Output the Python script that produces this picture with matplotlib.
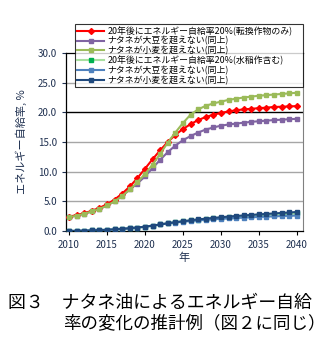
import matplotlib
matplotlib.use('Agg')
import matplotlib.pyplot as plt
import numpy as np

plt.rcParams['font.family'] = ['Noto Sans CJK JP', 'DejaVu Sans']

years = np.arange(2010, 2041)

# 転換作物のみ
only_conv = [2.4, 2.7, 3.0, 3.4, 3.9, 4.5, 5.3, 6.3, 7.5, 8.9, 10.5, 12.1, 13.6, 15.0, 16.2,
             17.2, 18.0, 18.7, 19.2, 19.6, 19.9, 20.15, 20.35, 20.5, 20.6, 20.7, 20.8, 20.9,
             20.95, 21.0, 21.05]
conv_soy = [2.3, 2.6, 2.9, 3.3, 3.7, 4.3, 5.0, 5.9, 7.0, 8.0, 9.2, 10.6, 12.0, 13.3, 14.4,
            15.3, 16.0, 16.6, 17.1, 17.45, 17.75, 17.95, 18.1, 18.25, 18.4, 18.5, 18.6, 18.7,
            18.75, 18.85, 18.9]
conv_wheat = [2.3, 2.6, 2.9, 3.3, 3.7, 4.3, 5.0, 5.9, 7.0, 8.2, 9.6, 11.2, 13.0, 14.9, 16.6,
              18.2, 19.6, 20.5, 21.1, 21.5, 21.8, 22.1, 22.3, 22.5, 22.65, 22.8, 22.9, 23.0,
              23.1, 23.2, 23.3]
# 水稲作含む
with_rice = [0.0, 0.02, 0.05, 0.1, 0.15, 0.2, 0.28, 0.36, 0.46, 0.58, 0.72, 0.9, 1.1, 1.3, 1.48,
             1.63, 1.77, 1.9, 2.02, 2.13, 2.23, 2.32, 2.41, 2.49, 2.57, 2.64, 2.71, 2.78,
             2.84, 2.9, 2.95]
rice_soy = [0.0, 0.02, 0.05, 0.1, 0.15, 0.2, 0.28, 0.36, 0.46, 0.58, 0.72, 0.9, 1.1, 1.28, 1.43,
            1.56, 1.68, 1.78, 1.88, 1.97, 2.05, 2.12, 2.19, 2.25, 2.31, 2.37, 2.42, 2.47,
            2.52, 2.56, 2.6]
rice_wheat = [0.0, 0.02, 0.05, 0.1, 0.15, 0.2, 0.28, 0.36, 0.46, 0.58, 0.72, 0.9, 1.1, 1.3, 1.48,
              1.65, 1.8, 1.95, 2.08, 2.2, 2.32, 2.43, 2.53, 2.62, 2.71, 2.8, 2.88, 2.96,
              3.04, 3.12, 3.2]

labels = ['20年後にエネルギー自給率20%(転換作物のみ)',
          'ナタネが大豆を超えない(同上)',
          'ナタネが小麦を超えない(同上)',
          '20年後にエネルギー自給率20%(水稲作含む)',
          'ナタネが大豆を超えない(同上)',
          'ナタネが小麦を超えない(同上)']

fig = plt.figure(figsize=(3.3, 3.4), dpi=100)
ax = fig.add_axes([0.2, 0.3206, 0.718, 0.5235])

ax.plot(years, only_conv, color='#FF0000', marker='D', ms=3, lw=1.5, label=labels[0], zorder=5)
ax.plot(years, conv_soy, color='#8064A2', marker='s', ms=3.5, lw=1.5, label=labels[1], zorder=4)
ax.plot(years, conv_wheat, color='#9BBB59', marker='s', ms=3.5, lw=1.5, label=labels[2], zorder=6)
ax.plot(years, with_rice, color='#A8E0A0', marker='s', ms=3.5, mfc='#00B050', mec='#00B050',
        lw=1.5, label=labels[3], zorder=3)
ax.plot(years, rice_soy, color='#4F81BD', marker='s', ms=3.5, lw=1.5, label=labels[4], zorder=4)
ax.plot(years, rice_wheat, color='#1F497D', marker='s', ms=3.5, lw=1.5, label=labels[5], zorder=5)

ax.set_xlim(2009.6, 2040.8)
ax.set_ylim(0, 30)
ax.set_xticks(np.arange(2010, 2041, 5))
ax.set_yticks(np.arange(0, 31, 5))
ax.set_yticklabels(['%.1f' % v for v in np.arange(0, 31, 5)])
ax.tick_params(labelsize=7, colors='#1F3050', length=3, width=0.8)
ax.tick_params(axis='x', colors='black', labelcolor='#1F3050')

for v in [5, 10, 15, 25]:
    ax.axhline(v, color='#A6A6A6', lw=1, zorder=1)
ax.axhline(20, color='black', lw=1, zorder=1)

for s in ['left', 'bottom', 'top']:
    ax.spines[s].set_color('black')
    ax.spines[s].set_linewidth(0.9)
ax.spines['right'].set_color('#808080')

ax.set_ylabel('エネルギー自給率, %', fontsize=8, color='#1F3050', labelpad=8)
ax.set_xlabel('年', fontsize=8, color='#1F3050', labelpad=2)

leg = ax.legend(loc='upper left', bbox_to_anchor=(0.038, 0.0, 0.962, 1.163), borderaxespad=0,
                mode='expand', fontsize=6.4, frameon=True, fancybox=False, edgecolor='black',
                handlelength=3.0, labelspacing=0.06, borderpad=0.25, handletextpad=0.4)
leg.get_frame().set_linewidth(0.8)
leg.set_zorder(10)

fig.text(0.024, 0.108, '図３　ナタネ油によるエネルギー自給', fontsize=12.9, va='center', ha='left')
fig.text(0.19, 0.05, '率の変化の推計例（図２に同じ）', fontsize=12.6, va='center', ha='left')

fig.savefig('out.png', dpi=100)
